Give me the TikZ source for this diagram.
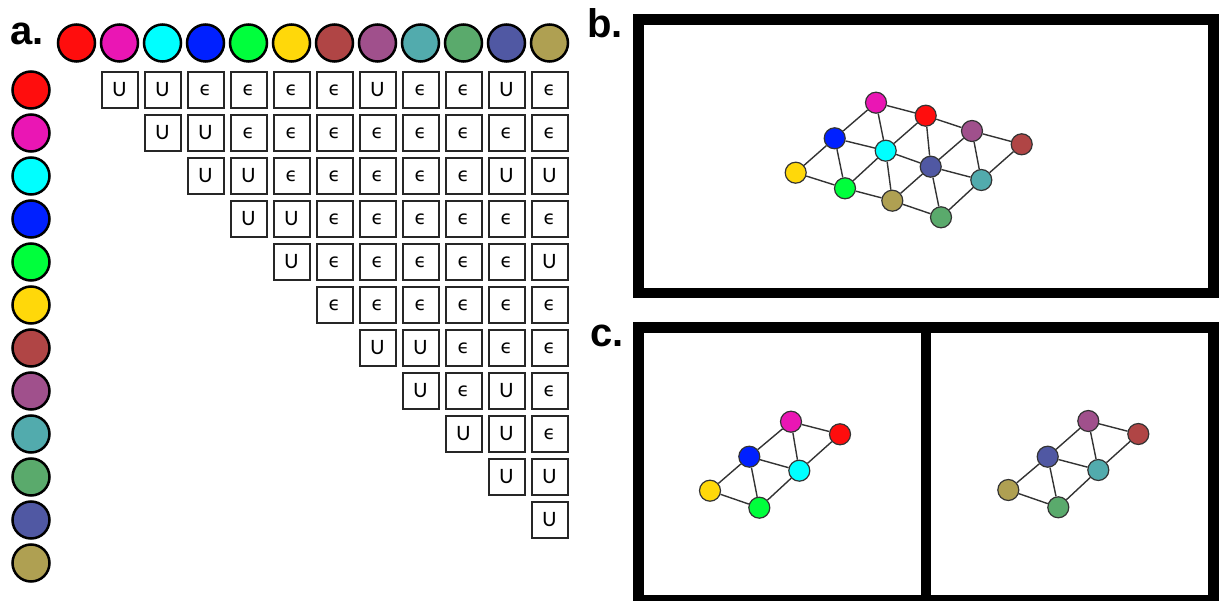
\documentclass[tikz,border=0pt]{standalone}
\usepackage{fontspec}
\setmainfont{Liberation Sans}
\newfontfamily\carl{Carlito}
\newfontfamily\dvs{DejaVu Sans}
\definecolor{cred}{HTML}{FF0D0D}
\definecolor{cmag}{HTML}{EA16B4}
\definecolor{ccya}{HTML}{00FFFF}
\definecolor{cblu}{HTML}{0020FF}
\definecolor{cgrn}{HTML}{00FF3C}
\definecolor{cyel}{HTML}{FFD80A}
\definecolor{cbrn}{HTML}{B04545}
\definecolor{cpur}{HTML}{A0508C}
\definecolor{ctea}{HTML}{52ABAD}
\definecolor{cgrt}{HTML}{5AAA6C}
\definecolor{cnav}{HTML}{5058A3}
\definecolor{coli}{HTML}{AFA052}
\newcommand\Ep{{\dvs\fontsize{19}{19}\selectfont ϵ}}
\begin{document}
\begin{tikzpicture}[x=1pt,y=-1pt,
  hdr/.style={circle, draw=black, line width=2.5pt, minimum size=37pt, inner sep=0pt},
  cell/.style={draw=black!85, line width=2pt, minimum size=36pt, inner sep=0pt,
    font=\carl\fontsize{22}{22}\selectfont},
  gn/.style={circle, draw=black!80, line width=1.2pt, minimum size=21pt, inner sep=0pt},
  edge/.style={draw=black!80, line width=1.4pt},
  lbl/.style={font=\fontsize{40}{40}\selectfont\bfseries, anchor=base east, inner sep=0pt},
  frame/.style={draw=black, line width=10.5pt}]
\useasboundingbox (0,0) rectangle (1219,601);
% panel labels
\node[lbl] (la) at (44,45) {a.};
\node[lbl] (lb) at (623,38) {b.};
\node[lbl] (lc) at (624,347) {c.};
% header circles
\foreach \c [count=\i from 0] in {cred,cmag,ccya,cblu,cgrn,cyel,cbrn,cpur,ctea,cgrt,cnav,coli}{
  \node[hdr, fill=\c] (t\i) at ({76.5+43*\i},43) {};
  \node[hdr, fill=\c] (l\i) at (31,{90+43*\i}) {};
}
% matrix
\foreach \vals [count=\r from 0] in {
  {U,U,\Ep,\Ep,\Ep,\Ep,U,\Ep,\Ep,U,\Ep},
  {U,U,\Ep,\Ep,\Ep,\Ep,\Ep,\Ep,\Ep,\Ep},
  {U,U,\Ep,\Ep,\Ep,\Ep,\Ep,U,U},
  {U,U,\Ep,\Ep,\Ep,\Ep,\Ep,\Ep},
  {U,\Ep,\Ep,\Ep,\Ep,\Ep,U},
  {\Ep,\Ep,\Ep,\Ep,\Ep,\Ep},
  {U,U,\Ep,\Ep,\Ep},
  {U,\Ep,U,\Ep},
  {U,U,\Ep},
  {U,U},
  {U}}{
  \foreach \v [count=\k] in \vals {
    \pgfmathtruncatemacro\cc{\r+\k}
    \node[cell] (m\r-\cc) at ({76.5+43*\cc},{90+43*\r}) {\v};
  }
}
% frames
\draw[frame] (638.25,19.5) rectangle (1213.5,293);
\draw[frame] (638.25,327.5) rectangle (1213.5,600.5);
\draw[frame] (926,327.5) -- (926,600.5);
% panel b graph
\node[gn, fill=cmag] (bmag) at (876,102.7) {};
\node[gn, fill=cred] (bred) at (925.7,115.7) {};
\node[gn, fill=cpur] (bpur) at (972,131) {};
\node[gn, fill=cbrn] (bbrn) at (1021.7,144.3) {};
\node[gn, fill=cblu] (bblu) at (834.7,138.3) {};
\node[gn, fill=ccya] (bcya) at (885.7,150.7) {};
\node[gn, fill=cnav] (bnav) at (930.7,166.7) {};
\node[gn, fill=ctea] (btea) at (981.3,180) {};
\node[gn, fill=cyel] (byel) at (795.7,172.7) {};
\node[gn, fill=cgrn] (bgrn) at (845,188.3) {};
\node[gn, fill=coli] (boli) at (892.3,200.7) {};
\node[gn, fill=cgrt] (bgrt) at (941,217.3) {};
\foreach \a/\b in {bmag/bred,bred/bpur,bpur/bbrn,bblu/bcya,bcya/bnav,bnav/btea,
  byel/bgrn,bgrn/boli,boli/bgrt,bmag/bblu,bred/bcya,bpur/bnav,bbrn/btea,
  bblu/byel,bcya/bgrn,bnav/boli,btea/bgrt,bmag/bcya,bred/bnav,bpur/btea,
  bblu/bgrn,bcya/boli,bnav/bgrt}
  \draw[edge] (\a) -- (\b);
% panel c left graph
\node[gn, fill=cmag] (lmag) at (791,421.7) {};
\node[gn, fill=cred] (lred) at (840,434.3) {};
\node[gn, fill=cblu] (lblu) at (749.3,456.7) {};
\node[gn, fill=ccya] (lcya) at (799.3,470.7) {};
\node[gn, fill=cyel] (lyel) at (710,490.7) {};
\node[gn, fill=cgrn] (lgrn) at (759.3,507.7) {};
\foreach \a/\b in {lmag/lred,lmag/lblu,lmag/lcya,lred/lcya,lblu/lcya,
  lblu/lyel,lblu/lgrn,lcya/lgrn,lyel/lgrn}
  \draw[edge] (\a) -- (\b);
% panel c right graph
\node[gn, fill=cpur] (rpur) at (1088.3,421) {};
\node[gn, fill=cbrn] (rbrn) at (1138.3,434) {};
\node[gn, fill=cnav] (rnav) at (1047.7,456.7) {};
\node[gn, fill=ctea] (rtea) at (1098.3,470) {};
\node[gn, fill=coli] (roli) at (1008.3,490) {};
\node[gn, fill=cgrt] (rgrt) at (1058.3,507.3) {};
\foreach \a/\b in {rpur/rbrn,rpur/rnav,rpur/rtea,rbrn/rtea,rnav/rtea,
  rnav/roli,rnav/rgrt,rtea/rgrt,roli/rgrt}
  \draw[edge] (\a) -- (\b);
\end{tikzpicture}
\end{document}
